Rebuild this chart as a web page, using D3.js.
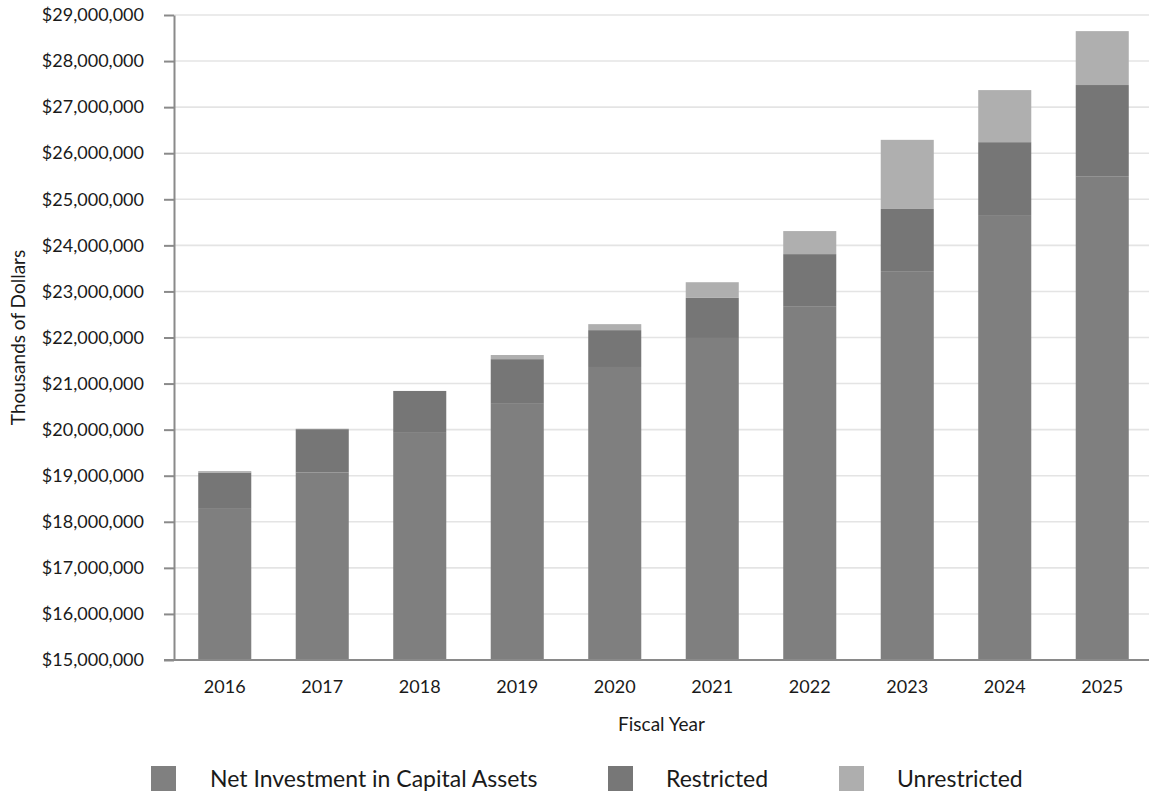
<!DOCTYPE html>
<html>
<head>
<meta charset="utf-8">
<script src="https://cdn.jsdelivr.net/npm/d3@7"></script>
<style>
  html, body { margin: 0; padding: 0; background: #fff; }
  svg { display: block; font-family: Lato, "Open Sans", sans-serif; }
</style>
</head>
<body>
<svg id="chart" width="1149" height="794"></svg>
<script>
// Net position by fiscal year, thousands of dollars
const years = ["2016", "2017", "2018", "2019", "2020", "2021", "2022", "2023", "2024", "2025"];
const netInvestment = [18280000, 19070000, 19930000, 20560000, 21360000, 21990000, 22680000, 23440000, 24640000, 25500000];
const restricted    = [790000, 940000, 910000, 970000, 800000, 870000, 1130000, 1350000, 1600000, 1980000];
const unrestricted  = [30000, 10000, 0, 90000, 130000, 340000, 500000, 1500000, 1130000, 1170000];
const yTicks = [15000000, 16000000, 17000000, 18000000, 19000000, 20000000, 21000000,
                22000000, 23000000, 24000000, 25000000, 26000000, 27000000, 28000000, 29000000];

const seriesNames = ["Net Investment in Capital Assets", "Restricted", "Unrestricted"];
const barColors = ["#7f7f7f", "#767676", "#afafaf"];
const swatchColors = ["#808080", "#777777", "#aeaeae"];

const rows = years.map((y, i) => ({
  year: y,
  "Net Investment in Capital Assets": netInvestment[i],
  "Restricted": restricted[i],
  "Unrestricted": unrestricted[i]
}));

const svg = d3.select("#chart");
const axisX = 174, plotRight = 1149, plotTop = 15, plotBottom = 660;

const x = d3.scaleBand().domain(years).range([176, 1151]).paddingInner(0.456).paddingOuter(0.228);
const y = d3.scaleLinear().domain([15000000, 29000000]).range([plotBottom, plotTop]).clamp(true);

// horizontal gridlines
svg.append("g")
  .selectAll("line")
  .data(yTicks.slice(1))
  .join("line")
  .attr("x1", axisX).attr("x2", plotRight)
  .attr("y1", d => y(d)).attr("y2", d => y(d))
  .attr("stroke", "#e4e4e4").attr("stroke-width", 1.6);

// stacked bars
const stacked = d3.stack().keys(seriesNames)(rows);
svg.append("g")
  .selectAll("g")
  .data(stacked)
  .join("g")
  .attr("fill", (d, i) => barColors[i])
  .selectAll("rect")
  .data(d => d)
  .join("rect")
  .attr("x", d => x(d.data.year))
  .attr("width", x.bandwidth())
  .attr("y", d => y(d[1]))
  .attr("height", d => Math.max(0, y(d[0]) - y(d[1])));

// y axis
const fmt = d => "$" + d3.format(",")(d);
const yAxis = svg.append("g")
  .attr("transform", `translate(${axisX},0)`)
  .call(d3.axisLeft(y).tickValues(yTicks).tickFormat(fmt).tickSize(10).tickPadding(20).tickSizeOuter(0));
yAxis.select(".domain").attr("stroke", "#8a8a8a").attr("stroke-width", 2);
yAxis.selectAll(".tick line").attr("stroke", "#8a8a8a").attr("stroke-width", 2);
yAxis.selectAll(".tick text").attr("font-size", 18).attr("fill", "#1a1a1a").attr("font-family", "Lato");

// x baseline
svg.append("line")
  .attr("x1", 164).attr("x2", plotRight)
  .attr("y1", plotBottom).attr("y2", plotBottom)
  .attr("stroke", "#8a8a8a").attr("stroke-width", 2);

// year labels
svg.append("g")
  .selectAll("text")
  .data(years)
  .join("text")
  .attr("x", d => x(d) + x.bandwidth() / 2)
  .attr("y", 693)
  .attr("text-anchor", "middle")
  .attr("font-size", 18)
  .attr("fill", "#1a1a1a")
  .text(d => d);

// axis titles
svg.append("text")
  .attr("x", (axisX + plotRight) / 2).attr("y", 731)
  .attr("text-anchor", "middle")
  .attr("font-size", 19)
  .attr("fill", "#1a1a1a")
  .text("Fiscal Year");

svg.append("text")
  .attr("transform", `translate(25,${(plotTop + plotBottom) / 2}) rotate(-90)`)
  .attr("text-anchor", "middle")
  .attr("font-size", 19)
  .attr("fill", "#1a1a1a")
  .text("Thousands of Dollars");

// legend
const legendSwatchX = [151, 608, 839];
const legendTextX = [210, 666, 897];
const legend = svg.append("g")
  .selectAll("g")
  .data(seriesNames)
  .join("g");
legend.append("rect")
  .attr("x", (d, i) => legendSwatchX[i])
  .attr("y", 766)
  .attr("width", 25).attr("height", 25)
  .attr("fill", (d, i) => swatchColors[i]);
legend.append("text")
  .attr("x", (d, i) => legendTextX[i])
  .attr("y", 787)
  .attr("font-size", 23)
  .attr("fill", "#1a1a1a")
  .text(d => d);
</script>
</body>
</html>
